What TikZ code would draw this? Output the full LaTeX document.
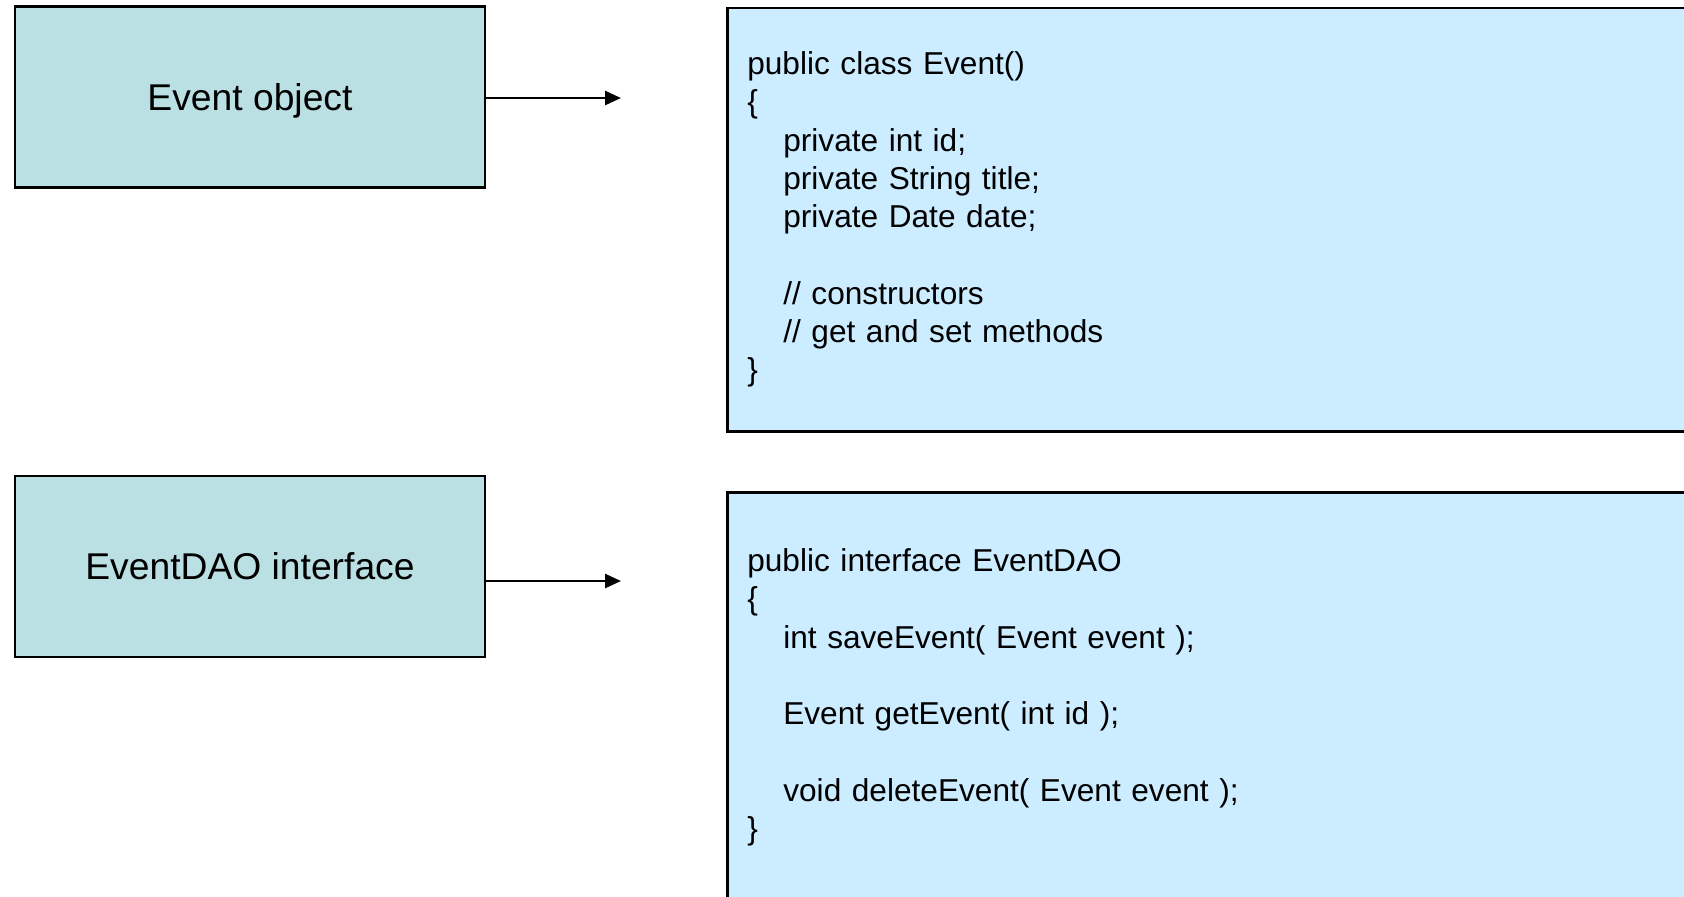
\documentclass[tikz,border=0pt]{standalone}
\usepackage{fontspec}
\setmainfont{Liberation Sans}
\usetikzlibrary{arrows.meta}

\definecolor{lteal}{HTML}{BBE0E3}
\definecolor{lblue}{HTML}{CCECFF}

\begin{document}
\begin{tikzpicture}[x=0.1mm, y=-0.1mm]
        \clip (0,0) rectangle (1684,896);
        \fill[white] (0,0) rectangle (1684,896);

        \begin{scope}[
            lnode/.style={draw=black, fill=lteal, line width=0.75pt, minimum width=47mm, minimum height=18.1mm, inner sep=0pt, text height=7.6pt, text depth=0pt, font=\fontsize{10.6}{12.7}\selectfont},
            cnode/.style={draw=black, fill=lblue, line width=0.75pt, anchor=north west, align=left, inner xsep=2mm, inner ysep=0pt, text width=96mm, font=\fontsize{9}{10.9}\selectfont}]
            \node[lnode] (obj) at (250, 97.25) {Event object};
            \node[lnode] (dao) at (250, 566.5) {EventDAO interface};
            \node[cnode, minimum height=42.35mm] (cls) at (726, 6.5) {public class Event()\\
                \{\\
                \hspace*{3.6mm}private int id;\\
                \hspace*{3.6mm}private String title;\\
                \hspace*{3.6mm}private Date date;\\[10.9pt]
                \hspace*{3.6mm}// constructors\\
                \hspace*{3.6mm}// get and set methods\\
                \}};
            \node[cnode, minimum height=41mm] (ifc) at (726, 491) {public interface EventDAO\\
                \{\\
                \hspace*{3.6mm}int saveEvent( Event event );\\[10.9pt]
                \hspace*{3.6mm}Event getEvent( int id );\\[10.9pt]
                \hspace*{3.6mm}void deleteEvent( Event event );\\
                \}};
        \end{scope}

        \coordinate (a1) at (621, 98);
        \coordinate (a2) at (621, 581);

        \begin{scope}[
            every edge/.style={draw=black, line width=0.75pt}]
            \path [-{Triangle[length=1.6mm, width=1.4mm]}] (obj.east |- a1) edge (a1);
            \path [-{Triangle[length=1.6mm, width=1.4mm]}] (dao.east |- a2) edge (a2);
        \end{scope}

        \end{tikzpicture}
\end{document}
